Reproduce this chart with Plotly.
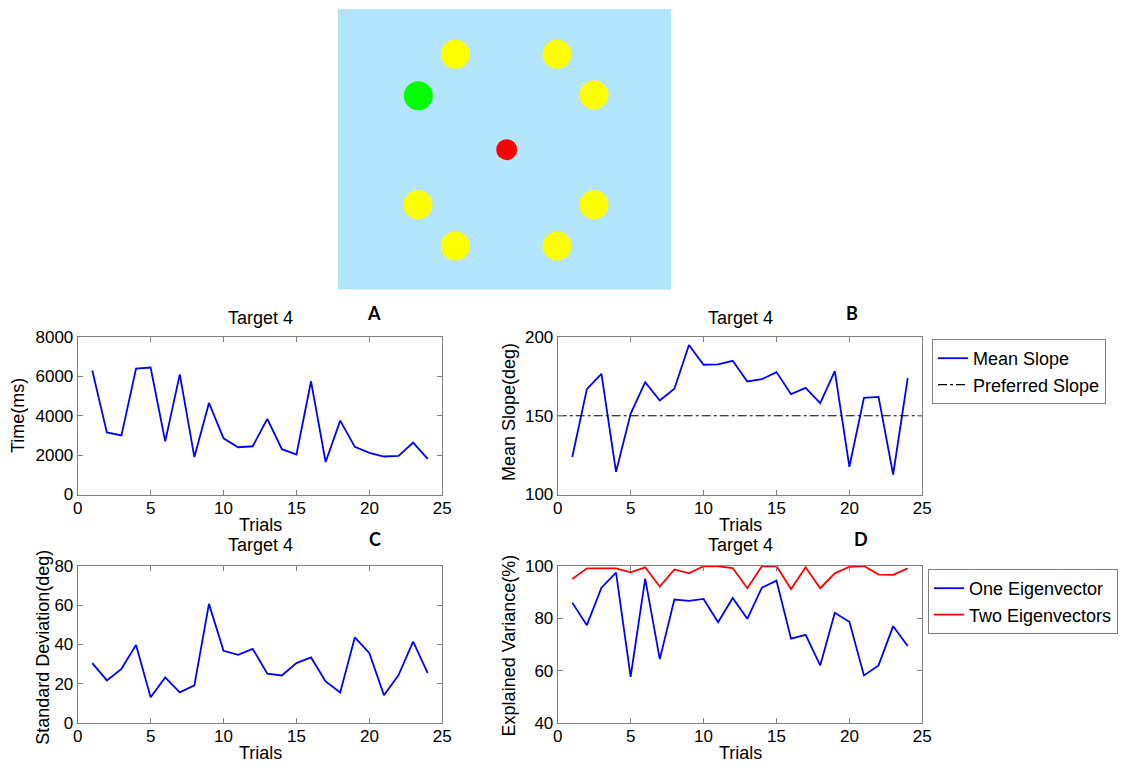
import plotly.graph_objects as go

W, H = 1130, 765

trials = list(range(1, 25))
time_ms = [6300, 3150, 3000, 6400, 6450, 2700, 6100, 1900, 4650, 2850, 2400, 2450,
           3840, 2300, 2030, 5750, 1650, 3750, 2420, 2115, 1930, 1960, 2640, 1810]
mean_slope = [123.8, 166.9, 176.6, 114.4, 151.2, 171.3, 159.7, 167.1, 194.9, 182.4, 182.6, 184.9,
              171.8, 173.2, 177.7, 163.7, 167.7, 158.0, 178.3, 117.6, 161.4, 162.0, 112.7, 173.9]
preferred_slope = [150] * 24
std_dev = [30.5, 21.7, 27.6, 39.8, 13.1, 23.2, 15.6, 19.2, 60.7, 36.8, 34.7, 37.8,
           25.1, 24.2, 30.5, 33.4, 21.2, 15.6, 43.6, 35.6, 14.1, 24.4, 41.5, 25.4]
one_eig = [86.0, 77.4, 91.7, 97.5, 57.6, 95.2, 64.4, 87.2, 86.7, 87.4, 78.5, 87.8,
           79.8, 91.7, 94.4, 72.2, 73.7, 62.0, 82.1, 78.7, 58.2, 62.0, 77.0, 69.4]
two_eig = [95.0, 99.1, 99.1, 99.1, 97.6, 99.5, 92.1, 98.7, 97.2, 99.9, 99.9, 99.2,
           91.5, 99.9, 100.0, 91.2, 99.5, 91.5, 97.2, 99.7, 100.0, 96.7, 96.6, 99.1]

# target display (top picture), coordinates in picture pixels from its top-left
target_x = [117.3, 219.0, 256.0, 256.0, 219.0, 117.3, 80.0]
target_y = [45.3, 45.3, 86.0, 195.7, 237.0, 237.0, 195.7]
active_x = [80.3]
active_y = [86.7]
center_x = [168.7]
center_y = [140.7]

FONT = "Liberation Sans, Arial, sans-serif"
LETTER_FONT = "Lato, Open Sans, sans-serif"


def px(x):
    return x / W


def py(y):
    return 1 - y / H


fig = go.Figure()

# panel extents (pixels)
LX = (77.7, 442.3)
RX = (557.7, 922.3)
TY = (337.0, 494.5)
BY = (566.0, 723.0)


def dom_x(a):
    return [px(a[0]), px(a[1])]


def dom_y(a):
    return [py(a[1]), py(a[0])]


blue = "#0000FF"
red = "#FF0000"
LW = 1.8

fig.add_trace(go.Scatter(x=trials, y=time_ms, mode="lines", line=dict(color=blue, width=LW),
                         xaxis="x", yaxis="y", showlegend=False))
fig.add_trace(go.Scatter(x=trials, y=mean_slope, mode="lines", line=dict(color=blue, width=LW),
                         xaxis="x2", yaxis="y2", name="Mean Slope", legend="legend"))
fig.add_trace(go.Scatter(x=[0] + trials + [25], y=[preferred_slope[0]] + preferred_slope + [preferred_slope[-1]],
                         mode="lines", line=dict(color="black", width=1.2, dash="dashdot"),
                         xaxis="x2", yaxis="y2", name="Preferred Slope", legend="legend"))
fig.add_trace(go.Scatter(x=trials, y=std_dev, mode="lines", line=dict(color=blue, width=LW),
                         xaxis="x3", yaxis="y3", showlegend=False))
fig.add_trace(go.Scatter(x=trials, y=one_eig, mode="lines", line=dict(color=blue, width=LW),
                         xaxis="x4", yaxis="y4", name="One Eigenvector", legend="legend2"))
fig.add_trace(go.Scatter(x=trials, y=two_eig, mode="lines", line=dict(color=red, width=LW),
                         xaxis="x4", yaxis="y4", name="Two Eigenvectors", legend="legend2"))

# top picture
fig.add_trace(go.Scatter(x=target_x, y=target_y, mode="markers",
                         marker=dict(color="#FFFF00", size=29, line=dict(width=0)),
                         xaxis="x5", yaxis="y5", showlegend=False))
fig.add_trace(go.Scatter(x=active_x, y=active_y, mode="markers",
                         marker=dict(color="#00FF00", size=29, line=dict(width=0)),
                         xaxis="x5", yaxis="y5", showlegend=False))
fig.add_trace(go.Scatter(x=center_x, y=center_y, mode="markers",
                         marker=dict(color="#FF0000", size=21, line=dict(width=0)),
                         xaxis="x5", yaxis="y5", showlegend=False))

FRAME = "#808080"
axis_common = dict(showline=True, linecolor=FRAME, linewidth=1, mirror="ticks",
                   ticks="inside", ticklen=5, tickcolor=FRAME, showgrid=False,
                   zeroline=False, automargin=False,
                   tickfont=dict(family=FONT, size=17, color="black"))

xcommon = dict(range=[0, 25], tickvals=[0, 5, 10, 15, 20, 25], ticklabelstandoff=-2, **axis_common)

fig.update_layout(
    width=W, height=H, autosize=False, margin=dict(l=0, r=0, t=0, b=0, autoexpand=False),
    paper_bgcolor="white", plot_bgcolor="white",
    font=dict(family=FONT, size=18, color="black"),
    xaxis=dict(domain=dom_x(LX), anchor="y", **xcommon),
    yaxis=dict(domain=dom_y(TY), anchor="x", range=[0, 8000], tickvals=[0, 2000, 4000, 6000, 8000], **axis_common),
    xaxis2=dict(domain=dom_x(RX), anchor="y2", **xcommon),
    yaxis2=dict(domain=dom_y(TY), anchor="x2", range=[100, 200], tickvals=[100, 150, 200], **axis_common),
    xaxis3=dict(domain=dom_x(LX), anchor="y3", **xcommon),
    yaxis3=dict(domain=dom_y(BY), anchor="x3", range=[0, 80], tickvals=[0, 20, 40, 60, 80], **axis_common),
    xaxis4=dict(domain=dom_x(RX), anchor="y4", **xcommon),
    yaxis4=dict(domain=dom_y(BY), anchor="x4", range=[40, 100], tickvals=[40, 60, 80, 100], **axis_common),
    xaxis5=dict(domain=[px(338), px(671)], anchor="y5", range=[0, 333], visible=False),
    yaxis5=dict(domain=[py(289.5), py(9)], anchor="x5", range=[280.5, 0], visible=False),
    legend=dict(x=px(932), y=py(339), xanchor="left", yanchor="top",
                bgcolor="white", bordercolor=FRAME, borderwidth=1,
                font=dict(family=FONT, size=18, color="black"), tracegroupgap=0,
                itemwidth=30),
    legend2=dict(x=px(928), y=py(569), xanchor="left", yanchor="top",
                 bgcolor="white", bordercolor=FRAME, borderwidth=1,
                 font=dict(family=FONT, size=18, color="black"), tracegroupgap=0,
                 itemwidth=30),
    shapes=[dict(type="rect", xref="paper", yref="paper", x0=px(338), x1=px(671),
                 y0=py(289.5), y1=py(9), fillcolor="#B3E6FC", line=dict(width=0), layer="below")],
)

annotations = []


def txt(x, y, s, size=18, angle=0, bold=False, family=FONT):
    annotations.append(dict(x=px(x), y=py(y), xref="paper", yref="paper", text=("<b>%s</b>" % s) if bold else s,
                            showarrow=False, textangle=angle, xanchor="center", yanchor="middle",
                            font=dict(family=family, size=size, color="black")))


for cx, cy in [(260, 318), (740, 318), (260, 544.5), (740, 544.5)]:
    txt(cx, cy, "Target 4")
for cx, cy in [(260, 524.5), (740, 524.5), (260, 752.5), (740, 752.5)]:
    txt(cx, cy, "Trials")
txt(18, 416, "Time(ms)", angle=-90)
txt(509, 412, "Mean Slope(deg)", angle=-90)
txt(42.3, 647.5, "Standard Deviation(deg)", angle=-90)
txt(508.7, 645.7, "Explained Variance(%)", angle=-90)
txt(374, 313, "A", size=18, bold=True, family=LETTER_FONT)
txt(852, 313, "B", size=18, bold=True, family=LETTER_FONT)
txt(375, 539, "C", size=18, bold=True, family=LETTER_FONT)
txt(861, 539, "D", size=18, bold=True, family=LETTER_FONT)

fig.update_layout(annotations=annotations)

fig.write_html("out.html")
